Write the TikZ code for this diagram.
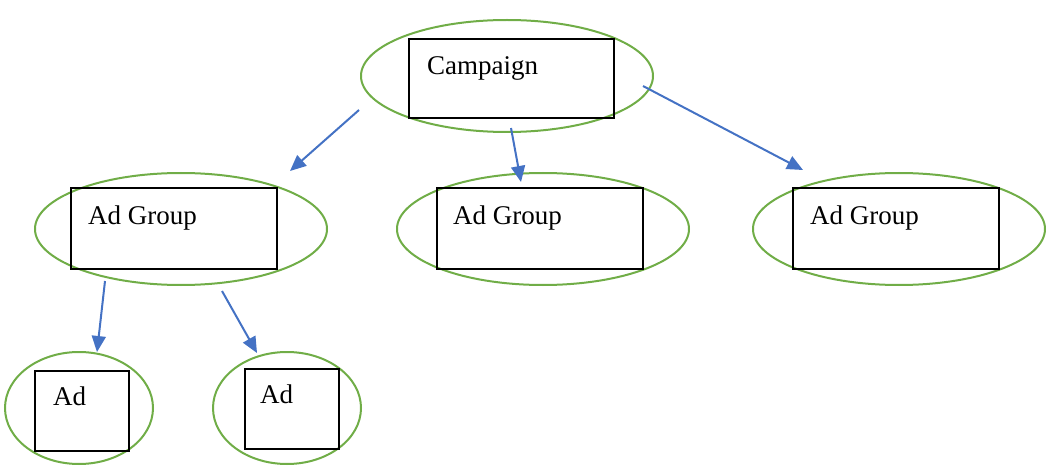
\documentclass[tikz,border=0pt]{standalone}
\usepackage{fontspec}
\setmainfont{Liberation Serif}
\usetikzlibrary{shapes.geometric,arrows.meta}
\definecolor{ellgreen}{HTML}{70AD47}
\definecolor{arrblue}{HTML}{4472C4}
\begin{document}
\begin{tikzpicture}[x=1pt,y=-1pt,
  oval/.style={ellipse,draw=ellgreen,line width=2pt,inner sep=0pt},
  bigoval/.style={oval,minimum width=292pt,minimum height=112pt},
  smalloval/.style={oval,minimum width=148pt,minimum height=112pt},
  boxnode/.style={draw=black,line width=2.4pt,inner sep=0pt,fill=none},
  gbox/.style={boxnode,minimum width=206pt,minimum height=81pt},
  abox/.style={boxnode,minimum width=94pt,minimum height=80pt},
  lbl/.style={anchor=base west,inner sep=0pt,font=\fontsize{27}{31}\selectfont},
  conn/.style={draw=arrblue,line width=2pt,-{Triangle[length=16pt,width=14pt]}}]
\useasboundingbox (0,0) rectangle (1050,476);
% Campaign
\node[bigoval] (campE) at (507,76) {};
\node[gbox,minimum height=79pt,minimum width=205pt] (campR) at (511.5,78.5) {};
\node[lbl] (campT) at (427,75) {Campaign};
% Ad groups
\node[bigoval] (g1E) at (181,229) {};
\node[gbox] (g1R) at (174,228.5) {};
\node[lbl] (g1T) at (88,224) {Ad Group};
\node[bigoval] (g2E) at (543,229) {};
\node[gbox] (g2R) at (540,228.5) {};
\node[lbl] (g2T) at (453,224) {Ad Group};
\node[bigoval] (g3E) at (899,229) {};
\node[gbox] (g3R) at (896,228.5) {};
\node[lbl] (g3T) at (810,224) {Ad Group};
% Ads
\node[smalloval] (a1E) at (79,408) {};
\node[abox,minimum height=80pt] (a1R) at (82,411) {};
\node[lbl] (a1T) at (53,405) {Ad};
\node[smalloval] (a2E) at (287,408) {};
\node[abox] (a2R) at (292,409) {};
\node[lbl] (a2T) at (260,403) {Ad};
% arrow endpoints
\coordinate (s1) at (359,110);
\coordinate (e1) at (290,171);
\coordinate (s2) at (511,128);
\coordinate (e2) at (521,182);
\coordinate (s3) at (643,86);
\coordinate (e3) at (803,170);
\coordinate (s4) at (105,281);
\coordinate (e4) at (97,352);
\coordinate (s5) at (222,291);
\coordinate (e5) at (257,353);
\draw[conn] (s1) -- (e1);
\draw[conn] (s2) -- (e2);
\draw[conn] (s3) -- (e3);
\draw[conn] (s4) -- (e4);
\draw[conn] (s5) -- (e5);
\end{tikzpicture}
\end{document}
